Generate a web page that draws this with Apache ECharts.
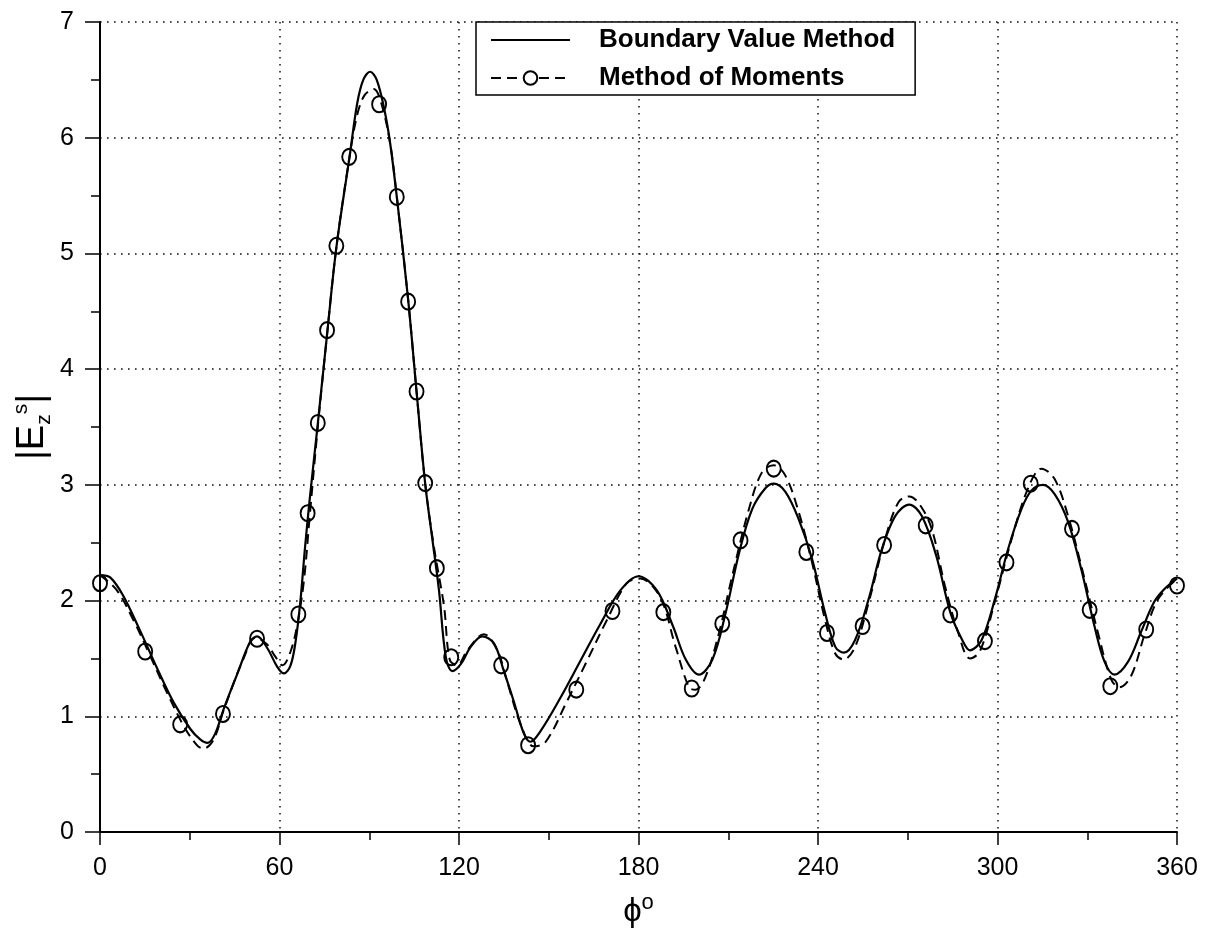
<!DOCTYPE html>
<html><head><meta charset="utf-8">
<script src="https://cdn.jsdelivr.net/npm/echarts@6/dist/echarts.min.js"></script>
<style>html,body{margin:0;padding:0;background:#fff}#c{width:1209px;height:932px}</style>
</head><body><div id="c"></div>
<script>
// Boundary Value Method (solid curve)
const bvmX = [0,3.4,7.8,13.4,19,24.6,30.2,33.5,36,38.5,41.3,45.8,50.3,52.5,55.9,59.2,61.5,63.7,65.4,67,68.5,70,72.8,75.9,79,83.5,86,88,90.3,92.5,95,97,99.2,103,105.8,108.7,111.1,113.3,115.6,117.8,120.6,123.9,127.8,131.7,135,138.3,141.7,143.9,147.2,153.9,160.6,167.3,174,180,186.1,191.5,195.8,200.2,204.7,209.1,213.6,218,222.4,225.2,229.1,233.6,238,242.4,245.8,248.6,252.4,256.9,261.3,265.8,270.5,274.7,279.5,284.2,288,290.8,294.7,299.1,303.6,308,311.3,315.2,319.1,323.6,328,332.4,335.8,339.1,343.6,348,352.4,355.8,360];
const bvmY = [2.22,2.20,2.04,1.74,1.42,1.12,0.89,0.80,0.77,0.85,1.06,1.36,1.65,1.69,1.59,1.43,1.37,1.44,1.65,2.0,2.45,2.85,3.53,4.3,5.05,5.85,6.3,6.5,6.57,6.5,6.25,5.95,5.49,4.6,3.81,3.01,2.53,2.09,1.51,1.39,1.45,1.60,1.69,1.63,1.39,1.13,0.85,0.78,0.87,1.16,1.48,1.80,2.09,2.21,2.09,1.78,1.49,1.36,1.49,1.89,2.41,2.79,2.97,3.01,2.94,2.70,2.36,1.89,1.60,1.55,1.66,2.01,2.44,2.73,2.83,2.73,2.39,1.90,1.67,1.57,1.66,2.01,2.45,2.79,2.95,3.00,2.92,2.68,2.27,1.78,1.47,1.36,1.47,1.73,1.99,2.10,2.19];
// Method of Moments (dashed curve)
const momX = [0,5.6,11.2,16.8,22.3,27.9,32.4,34.6,38,41.3,48,52,55.9,58.5,61,63.7,66,68.2,70,72.8,75.9,79,83.5,86,88.5,91.5,94,97,99.2,103,105.8,108.7,111.7,115,116.9,119.4,122.8,128.3,132.8,136.1,140.6,145,149,156.1,162.8,169.4,176.1,180.6,187.2,192.4,196.9,199.1,202.4,206.9,211.3,216.9,221.3,225.2,229.1,233.6,238,242.4,245.8,248.6,252.4,256.9,262.4,266.9,270.5,274,278,282.4,286.9,290.8,294.1,299.1,304.7,310.2,314.7,319.1,323.6,328,333.6,338,340.8,344.7,349.1,353.6,360];
const momY = [2.22,2.09,1.83,1.52,1.21,0.92,0.75,0.72,0.80,1.05,1.50,1.68,1.62,1.52,1.44,1.56,1.80,2.18,2.7,3.5,4.3,5.05,5.85,6.2,6.37,6.42,6.3,5.95,5.49,4.6,3.81,3.01,2.45,1.95,1.49,1.44,1.57,1.71,1.57,1.30,0.93,0.74,0.78,1.13,1.48,1.83,2.15,2.19,2.03,1.60,1.25,1.23,1.34,1.72,2.21,2.79,3.11,3.17,3.08,2.76,2.33,1.83,1.54,1.49,1.60,1.98,2.53,2.85,2.90,2.83,2.62,2.13,1.72,1.50,1.56,1.99,2.53,2.97,3.14,3.05,2.73,2.30,1.72,1.32,1.25,1.35,1.70,2.01,2.19];
// Method of Moments circle markers
const markX = [0,15.1,26.8,41.1,52.5,66.3,69.4,72.8,75.9,79,83.3,93.3,99.2,103,105.8,108.7,112.6,117.4,134.1,143.1,159.2,171.3,188.3,197.8,208,214.1,225.2,236.1,243,254.9,262.1,276,284.2,295.8,303,311.1,324.9,330.8,337.7,349.7,360];
const markY = [2.15,1.56,0.93,1.02,1.67,1.88,2.755,3.535,4.337,5.066,5.835,6.289,5.488,4.583,3.807,3.015,2.28,1.51,1.44,0.75,1.23,1.91,1.90,1.24,1.80,2.52,3.14,2.42,1.72,1.78,2.48,2.65,1.88,1.65,2.33,3.01,2.62,1.92,1.26,1.75,2.13];
const seriesNames = ['Boundary Value Method', 'Method of Moments'];
const xRange = [0, 360, 60];
const yRange = [0, 7, 1];

const zip = (xs, ys) => xs.map((x, i) => [x, ys[i]]);
const FONT = '"Liberation Sans", Arial, Helvetica, sans-serif';
const chart = echarts.init(document.getElementById('c'), null, {renderer: 'canvas'});
const dotted = {color: '#111', width: 1.5, type: [1.6, 5.4]};

chart.setOption({
  animation: false,
  backgroundColor: '#fff',
  grid: {left: 100, right: 32, top: 22, bottom: 100, containLabel: false, outerBoundsMode: 'none'},
  legend: {
    orient: 'vertical', left: 476, top: 22,
    backgroundColor: '#fff', borderColor: '#000', borderWidth: 1.5, borderRadius: 0,
    padding: [3, 20, 2, 14], itemGap: 8, itemWidth: 79, itemHeight: 17,
    textStyle: {fontFamily: FONT, fontSize: 26, fontWeight: 'bold', color: '#000', padding: [0, 0, 0, 24], lineHeight: 30},
    data: [
      {name: seriesNames[0], itemStyle: {opacity: 0}},
      {name: seriesNames[1], itemStyle: {color: '#fff', borderColor: '#000', borderWidth: 2}}
    ]
  },
  xAxis: {
    type: 'value', min: xRange[0], max: xRange[1], interval: xRange[2],
    name: '{phi|\u03D5}{sup|o}', nameLocation: 'middle', nameGap: 60, nameMoveOverlap: false,
    nameTextStyle: {rich: {
      phi: {fontFamily: FONT, fontSize: 33, color: '#000', lineHeight: 36, verticalAlign: 'bottom'},
      sup: {fontFamily: FONT, fontSize: 22, color: '#000', lineHeight: 22, verticalAlign: 'top'}
    }},
    axisLine: {show: true, onZero: false, lineStyle: {color: '#000', width: 2}},
    axisTick: {show: true, inside: false, length: 13, lineStyle: {color: '#000', width: 1.5}},
    minorTick: {show: true, splitNumber: 2, length: 8, lineStyle: {color: '#000', width: 1.5}},
    axisLabel: {fontFamily: FONT, fontSize: 25, color: '#000', margin: 24},
    splitLine: {show: true, lineStyle: dotted}
  },
  yAxis: {
    type: 'value', min: yRange[0], max: yRange[1], interval: yRange[2],
    name: '{b||E}{sub|z}{sup|s}{b||}', nameLocation: 'middle', nameGap: 45, nameRotate: 90, nameMoveOverlap: false,
    nameTextStyle: {rich: {
      b: {fontFamily: FONT, fontSize: 38, color: '#000', lineHeight: 44, verticalAlign: 'middle'},
      sub: {fontFamily: FONT, fontSize: 21, color: '#000', lineHeight: 21, verticalAlign: 'bottom'},
      sup: {fontFamily: FONT, fontSize: 21, color: '#000', lineHeight: 21, verticalAlign: 'top'}
    }},
    axisLine: {show: true, onZero: false, lineStyle: {color: '#000', width: 2}},
    axisTick: {show: true, inside: false, length: 15, lineStyle: {color: '#000', width: 1.5}},
    minorTick: {show: true, splitNumber: 2, length: 9, lineStyle: {color: '#000', width: 1.5}},
    axisLabel: {fontFamily: FONT, fontSize: 25, color: '#000', margin: 26},
    splitLine: {show: true, lineStyle: dotted}
  },
  series: [
    {
      name: seriesNames[0], type: 'line', data: zip(bvmX, bvmY), smooth: 0.35,
      symbol: 'none', color: '#000',
      lineStyle: {color: '#000', width: 2.2, type: 'solid'}, z: 3
    },
    {
      name: seriesNames[1], type: 'line', data: zip(momX, momY), smooth: 0.35,
      symbol: 'circle', showSymbol: true, symbolSize: 0, color: '#000',
      itemStyle: {color: 'rgba(0,0,0,0)', borderColor: '#000', borderWidth: 0},
      lineStyle: {color: '#000', width: 2, type: [10, 6]}, z: 2
    },
    {
      name: 'MoM markers', type: 'scatter', data: zip(markX, markY),
      symbol: 'circle', symbolSize: [14, 16], clip: false,
      itemStyle: {color: 'rgba(0,0,0,0)', borderColor: '#000', borderWidth: 2, opacity: 1}, z: 4
    }
  ]
});
</script></body></html>
